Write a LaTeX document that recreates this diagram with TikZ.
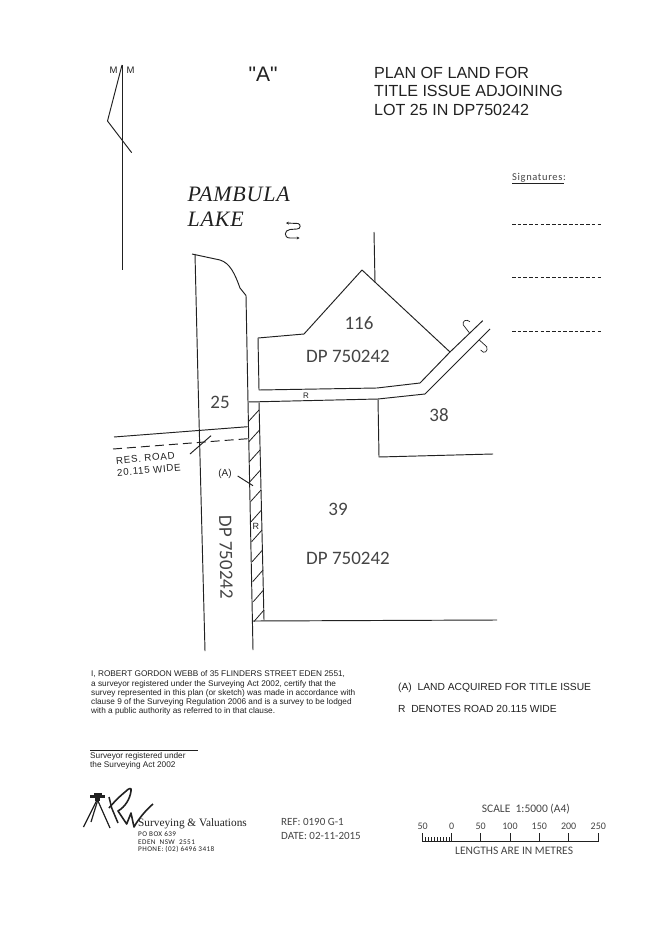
\documentclass[tikz,border=0pt]{standalone}
\usepackage{fontspec}
\usetikzlibrary{arrows.meta}
\setmainfont{Liberation Sans}
\newfontfamily\serifface{Liberation Serif}
\newfontfamily\lakeface[LetterSpace=3.5]{Liberation Serif}
\newfontfamily\sansw[LetterSpace=7]{Liberation Sans}
\newfontfamily\stencil{Carlito}
\newfontfamily\stencilw[LetterSpace=6]{Carlito}
\newfontfamily\quoteface[Ligatures=NoCommon]{Liberation Sans}
\newcommand{\fsz}[1]{\fontsize{#1}{#1}\selectfont}
\definecolor{ink}{gray}{0.13}
\definecolor{softink}{gray}{0.27}
\tikzset{
  plan/.style={draw=ink,line width=0.95pt,line join=round},
  thinplan/.style={draw=ink,line width=0.7pt},
  flowline/.style={draw=ink,line width=0.9pt,-{Stealth[length=2.8pt,width=2.8pt]}},
  lbl/.style={inner sep=0pt,anchor=base west,text=ink},
  mid/.style={inner sep=0pt,anchor=center,text=ink},
  lotno/.style={mid,text=softink,font=\stencil\fsz{19}},
  stext/.style={lbl,text=softink,font=\stencil\fsz{11}},
  sctext/.style={lbl,text=softink,font=\stencil\fsz{11.5}},
  scnum/.style={inner sep=0pt,anchor=base,text=softink,font=\stencil\fsz{10}},
  cert/.style={lbl,font=\fsz{8.25}},
  title/.style={lbl,font=\fsz{16.1}},
  note/.style={lbl,font=\fsz{10.27}},
  addr/.style={lbl,font=\stencilw\fsz{7.2}},
  lake/.style={lbl,font=\lakeface\itshape\fsz{22}},
  resroad/.style={inner sep=0pt,anchor=north west,text=ink,align=left,rotate=5,font=\sansw\fontsize{9.8}{12.3}\selectfont},
  sigdash/.style={draw=ink,line width=0.8pt,dash pattern=on 3.6pt off 2.1pt}
}
\begin{document}
\begin{tikzpicture}[x=1pt,y=-1pt]
\useasboundingbox[fill=white] (0,0) rectangle (662,936);
% north point
\coordinate (ntop) at (122,65);
\coordinate (nbot) at (122,270);
\draw[plan] (ntop) -- (nbot);
\draw[plan] (ntop) -- (107.5,121) -- (131.7,152.7);
\node[mid,font=\fsz{9.5}] (m1) at (113.7,70) {M};
\node[mid,font=\fsz{9.5}] (m2) at (130.7,70) {M};
% headings
\node[mid,font=\quoteface\fsz{21}] (a) at (263,74) {"A"};
\node[title] (t1) at (374,78.3) {PLAN OF LAND FOR};
\node[title] (t2) at (374,97) {TITLE ISSUE ADJOINING};
\node[title] (t3) at (374,115.7) {LOT 25 IN DP750242};
\node[lake] (p1) at (187.5,201.5) {PAMBULA};
\node[lake] (p2) at (187.5,226.7) {LAKE};
% flow symbol
\draw[flowline] (298,223.5) -- (286,223);
\draw[flowline] (298,223.5) .. controls (301,224) and (301,229) .. (297,229) -- (290,229.5) .. controls (284,230) and (283.5,238) .. (290,238) -- (299.5,238);
% signatures
\node[lbl,text=softink,font=\stencilw\fsz{10.5}] (sig) at (512,180.5) {Signatures:};
\coordinate (su1) at (512,183.3);
\coordinate (su2) at (564,183.3);
\draw[line width=0.7pt,draw=ink] (su1) -- (su2);
\foreach \yy in {224,277.7,331.7} \draw[sigdash] (512,\yy) -- (603,\yy);
% lot 116
\draw[plan] (258,338) -- (304,334) -- (362,270) -- (450,352) -- (420,383) -- (377,388) -- (259,390) -- cycle;
\draw[plan] (374,232) -- (375,282);
% road lines
\draw[plan] (248,402) -- (378,399) -- (425,394) -- (490,329);
\draw[plan] (450,352) -- (482.7,320.7);
% break marks
\draw[thinplan] (469.3,332.7) -- (463.3,325) .. controls (462,321) and (466,318.5) .. (470,321.7);
\draw[thinplan] (479.3,340) -- (486.7,346.7) .. controls (488.5,351) and (484,355) .. (480.7,350);
% lot 38
\draw[plan] (378,399) -- (379,457) -- (493,454);
% boundaries of 25
\draw[plan] (192,254) -- (220,260) .. controls (230,263) and (235,274) .. (240,288) -- (246,295.5) -- (248,402) -- (253,650);
\draw[plan] (195,254) -- (198,380) -- (205,651);
\draw[plan] (114,437) -- (247.7,426.7);
\draw[plan,dash pattern=on 9pt off 5pt] (113,449) -- (247.7,438.7);
\draw[plan] (190,454) -- (211,435.7);
\draw[plan] (237.7,476) -- (253,485.7);
% acquired strip
\draw[plan] (259,402) -- (264,620);
\draw[plan] (253,621) -- (497,620);
\foreach \k in {0,...,10} {
  \draw[plan,line width=0.8pt] ({248.3+0.55*\k},{421.7+20*\k}) -- ({259+0.5*\k},{410+20*\k});
}
\node[mid,fill=white,inner sep=0.6pt,font=\fsz{9}] (rs) at (255.8,526.5) {R};
% plan labels
\node[lotno] (n116) at (359,323) {116};
\node[lotno] (dp1) at (348,356) {DP 750242};
\node[mid,font=\fsz{8}] (rr) at (306,395.3) {R};
\node[lotno] (n38) at (439,415) {38};
\node[lotno] (n25) at (220,402) {25};
\node[mid,font=\fsz{10}] (aa) at (225,474) {(A)};
\node[lotno] (n39) at (338,509) {39};
\node[lotno] (dp2) at (348,558) {DP 750242};
\node[lotno,rotate=-89] (dp3) at (226,557) {DP 750242};
\node[resroad] (res) at (115.6,457) {RES.\ ROAD\\20.115 WIDE};
% certificate
\node[cert] (c1) at (91,676.7) {I, ROBERT GORDON WEBB of 35 FLINDERS STREET EDEN 2551,};
\node[cert] (c2) at (91,686) {a surveyor registered under the Surveying Act 2002, certify that the};
\node[cert] (c3) at (91,695.3) {survey represented in this plan (or sketch) was made in accordance with};
\node[cert] (c4) at (91,704.7) {clause 9 of the Surveying Regulation 2006 and is a survey to be lodged};
\node[cert] (c5) at (91,713.5) {with a public authority as referred to in that clause.};
\node[note] (n1) at (398,690) {(A)\ \ LAND ACQUIRED FOR TITLE ISSUE};
\node[note] (n2) at (398,712.3) {R\ \ DENOTES ROAD 20.115 WIDE};
\coordinate (sl1) at (90,750);
\coordinate (sl2) at (198,750);
\draw[draw=ink,line width=1pt] (sl1) -- (sl2);
\node[cert] (s1) at (90,758.3) {Surveyor registered under};
\node[cert] (s2) at (90,767.7) {the Surveying Act 2002};
% logo
\fill[ink] (90,794.5) rectangle (105,797.5);
\fill[ink] (94,792.5) rectangle (102,795);
\fill[ink] (95,797.5) rectangle (100,801);
\draw[plan,line width=1.2pt] (96.5,801) -- (83.5,827);
\draw[plan,line width=1.2pt] (97.5,801) -- (91,822);
\draw[plan,line width=1.2pt] (98,801) -- (110,828);
\draw[plan,line width=1.5pt] (109,797) -- (111.7,808) -- (118,823);
\draw[plan,line width=1.6pt] (109,808) .. controls (114,802) and (120,796) .. (125,792) .. controls (129,788) and (132,787) .. (131,791) .. controls (130,799) and (125,807) .. (118,811) -- (126.7,824) -- (131,813) -- (134,827) .. controls (139,818) and (147,809) .. (153,804);
\node[lbl,font=\serifface\fsz{11.3}] (sv) at (138,826.7) {Surveying \& Valuations};
\node[addr] (ad1) at (138,836.7) {PO BOX 639};
\node[addr] (ad2) at (138,844.3) {EDEN\ \ NSW\ \ 2551};
\node[addr] (ad3) at (138,851.7) {PHONE: (02) 6496 3418};
\node[stext] (ref) at (281,825.7) {REF: 0190 G-1};
\node[stext] (dat) at (281,839) {DATE: 02-11-2015};
% scale
\node[sctext] (sc) at (481.7,812.7) {SCALE\ \ 1:5000 (A4)};
\node[scnum] (s50a) at (422.7,829.3) {50};
\node[scnum] (s0) at (451.7,829.3) {0};
\node[scnum] (s50) at (480.7,829.3) {50};
\node[scnum] (s100) at (510,829.3) {100};
\node[scnum] (s150) at (539.3,829.3) {150};
\node[scnum] (s200) at (568.7,829.3) {200};
\node[scnum] (s250) at (598.3,829.3) {250};
\draw[thinplan] (422.7,841.7) -- (598.3,841.7);
\foreach \xx in {422.7,451.7,480.7,510,539.3,568.7,598.3} \draw[thinplan] (\xx,841.7) -- (\xx,832.7);
\foreach \k in {1,...,9} \draw[thinplan,line width=0.55pt] ({422.7+2.9*\k},841.7) -- ({422.7+2.9*\k},836.8);
\node[sctext] (len) at (455,854.3) {LENGTHS ARE IN METRES};
\end{tikzpicture}
\end{document}
